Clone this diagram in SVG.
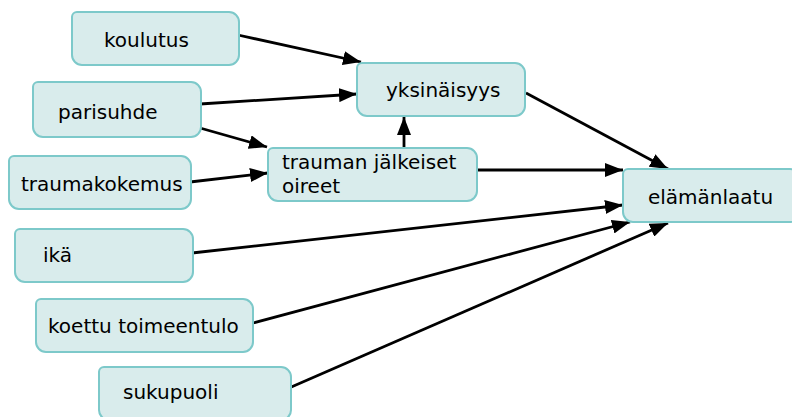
<svg xmlns="http://www.w3.org/2000/svg" width="792" height="417" viewBox="0 0 792 417">
<defs>
<style>
.box{fill:#d9ecec;stroke:#7dc9ca;stroke-width:2}
.lbl{font-family:"DejaVu Sans",sans-serif;font-size:20px;fill:#000}
.edge{stroke:#000;stroke-width:2.8;fill:none;marker-end:url(#ah)}
</style>
<marker id="ah" markerUnits="userSpaceOnUse" markerWidth="18" markerHeight="14" refX="18" refY="7" orient="auto">
<path d="M0,0 L18,7 L0,14 Z" fill="#000"/>
</marker>
</defs>
<rect width="792" height="417" fill="#fff"/>
<g id="connectors">
<line class="edge" x1="238" y1="35" x2="361" y2="62"/>
<line class="edge" x1="200" y1="104" x2="357" y2="94"/>
<line class="edge" x1="200" y1="128" x2="267" y2="147"/>
<line class="edge" x1="190" y1="182" x2="268" y2="173"/>
<line class="edge" x1="404" y1="148" x2="404" y2="117"/>
<line class="edge" x1="477" y1="170" x2="623" y2="170"/>
<line class="edge" x1="526" y1="93" x2="668" y2="169"/>
<line class="edge" x1="192" y1="253" x2="623" y2="205"/>
<line class="edge" x1="253" y1="323" x2="630" y2="222"/>
<line class="edge" x1="289" y1="388" x2="668" y2="223"/>
</g>
<g id="koulutus">
<path class="box" d="M77,12 H229 A10,10 0 0 1 239,22 V55 A10,10 0 0 1 229,65 H82 A10,10 0 0 1 72,55 V17 A5,5 0 0 1 77,12 Z"/>
<text class="lbl" x="104" y="47">koulutus</text>
</g>
<g id="parisuhde">
<path class="box" d="M38,82 H191 A10,10 0 0 1 201,92 V127 A10,10 0 0 1 191,137 H43 A10,10 0 0 1 33,127 V87 A5,5 0 0 1 38,82 Z"/>
<text class="lbl" x="58" y="119">parisuhde</text>
</g>
<g id="traumakokemus">
<path class="box" d="M14,156 H181 A10,10 0 0 1 191,166 V199 A10,10 0 0 1 181,209 H19 A10,10 0 0 1 9,199 V161 A5,5 0 0 1 14,156 Z"/>
<text class="lbl" x="21" y="191">traumakokemus</text>
</g>
<g id="ika">
<path class="box" d="M20,229 H183 A10,10 0 0 1 193,239 V272 A10,10 0 0 1 183,282 H25 A10,10 0 0 1 15,272 V234 A5,5 0 0 1 20,229 Z"/>
<text class="lbl" x="43" y="262">ikä</text>
</g>
<g id="koettu-toimeentulo">
<path class="box" d="M41,299 H243 A10,10 0 0 1 253,309 V342 A10,10 0 0 1 243,352 H46 A10,10 0 0 1 36,342 V304 A5,5 0 0 1 41,299 Z"/>
<text class="lbl" x="48" y="333">koettu toimeentulo</text>
</g>
<g id="sukupuoli">
<path class="box" d="M104,367 H281 A10,10 0 0 1 291,377 V410 A10,10 0 0 1 281,420 H109 A10,10 0 0 1 99,410 V372 A5,5 0 0 1 104,367 Z"/>
<text class="lbl" x="123" y="399">sukupuoli</text>
</g>
<g id="yksinaisyys">
<path class="box" d="M362,63 H515 A10,10 0 0 1 525,73 V106 A10,10 0 0 1 515,116 H367 A10,10 0 0 1 357,106 V68 A5,5 0 0 1 362,63 Z"/>
<text class="lbl" x="386" y="97">yksinäisyys</text>
</g>
<g id="trauman-jalkeiset-oireet">
<path class="box" d="M273,148 H467 A10,10 0 0 1 477,158 V191 A10,10 0 0 1 467,201 H278 A10,10 0 0 1 268,191 V153 A5,5 0 0 1 273,148 Z"/>
<text class="lbl" x="282" y="169">trauman jälkeiset</text>
<text class="lbl" x="282" y="193">oireet</text>
</g>
<g id="elamanlaatu">
<path class="box" d="M628,169 H790 A10,10 0 0 1 800,179 V212 A10,10 0 0 1 790,222 H633 A10,10 0 0 1 623,212 V174 A5,5 0 0 1 628,169 Z"/>
<text class="lbl" x="648" y="204">elämänlaatu</text>
</g>
</svg>
